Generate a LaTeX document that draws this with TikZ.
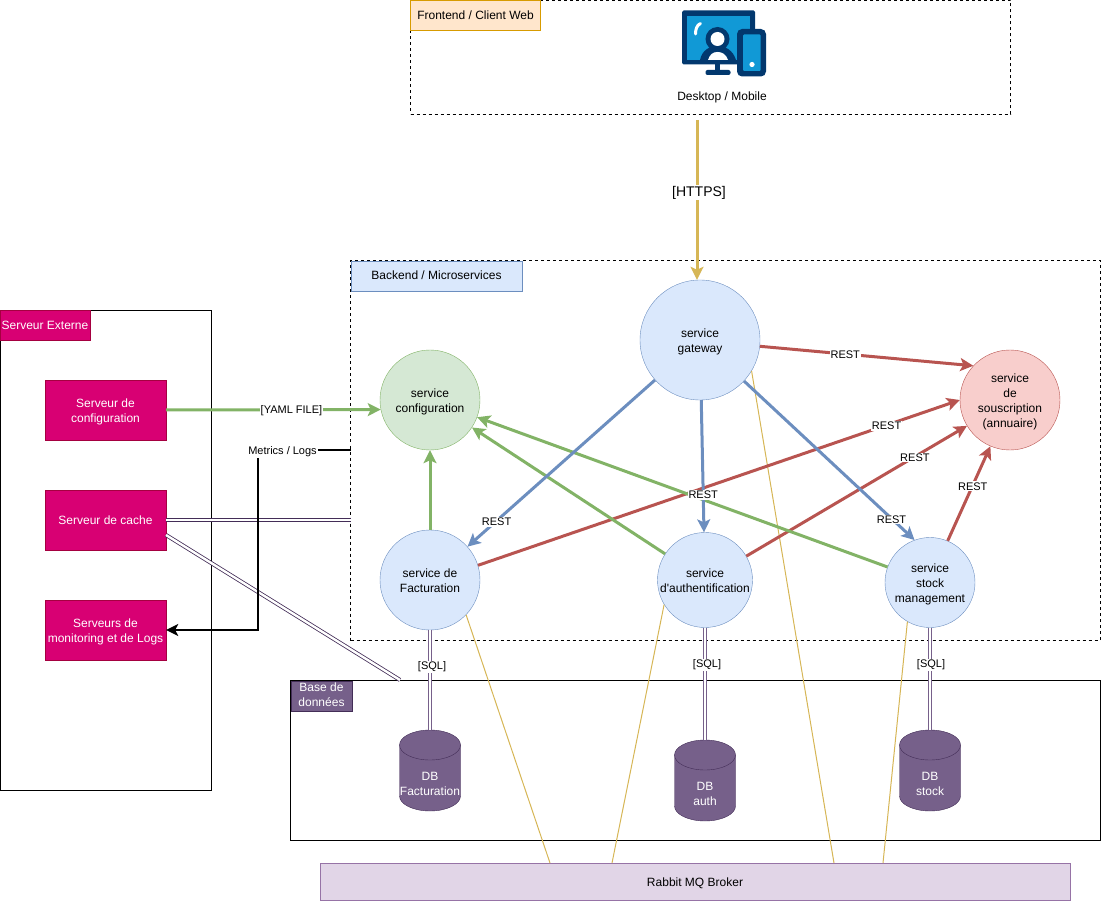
\documentclass[tikz,border=0pt]{standalone}
\usepackage{fontspec}
\setmainfont{Liberation Sans}
\usetikzlibrary{positioning,calc,arrows.meta,shapes.geometric}

\definecolor{bluefill}{HTML}{DAE8FC}
\definecolor{blueline}{HTML}{6C8EBF}
\definecolor{greenfill}{HTML}{D5E8D4}
\definecolor{greenline}{HTML}{82B366}
\definecolor{redfill}{HTML}{F8CECC}
\definecolor{redline}{HTML}{B85450}
\definecolor{goldline}{HTML}{D6B656}
\definecolor{orangefill}{HTML}{FFE6CC}
\definecolor{orangeline}{HTML}{D79B00}
\definecolor{pinkfill}{HTML}{D80073}
\definecolor{pinkline}{HTML}{A50040}
\definecolor{dbfill}{HTML}{76608A}
\definecolor{dbline}{HTML}{432D57}
\definecolor{mqfill}{HTML}{E1D5E7}
\definecolor{mqline}{HTML}{9673A6}
\definecolor{icondark}{HTML}{02386E}
\definecolor{iconblue}{HTML}{1199D6}

\newcommand{\txtstrut}{\rule[-3.5pt]{0pt}{15pt}}
\newcommand{\topline}{\rule{0pt}{14pt}}

\tikzset{
	txt/.style={font=\fontsize{12}{15}\selectfont,align=center,inner sep=0pt,execute at begin node=\txtstrut,execute at end node=\txtstrut},
	lbl/.style={font=\fontsize{11}{13}\selectfont,text=black,fill=white,inner sep=1pt,yshift=-1pt},
	service/.style={circle,draw=blueline,fill=bluefill,txt},
	server/.style={rectangle,draw=pinkline,fill=pinkfill,text=white,txt,minimum width=121pt,minimum height=60pt},
	tag/.style={rectangle,txt,anchor=north west,outer sep=0pt},
	dbnode/.style={rectangle,outer sep=0pt,inner sep=0pt,minimum width=61pt,minimum height=81pt},
	frame/.style={rectangle,draw=black,line width=.8pt,anchor=north west,outer sep=0pt},
	dashframe/.style={frame,dash pattern=on 3pt off 3pt},
	rest/.style={-{Stealth[length=13pt,width=13pt,inset=3pt]},line width=3pt},
	sql/.style={draw=dbfill,double=white,line width=0.8pt,double distance=2.4pt},
	mq/.style={draw=goldline,line width=1pt},
}

\begin{document}
\begin{tikzpicture}[x=1pt,y=-1pt]
	\useasboundingbox (0,0) rectangle (1101,901);

	% cadres
	\node[dashframe,minimum width=600pt,minimum height=114pt] (frontend) at (410.5,0.5) {};
	\node[dashframe,minimum width=749.5pt,minimum height=380pt] (backend) at (350.5,260.5) {};
	\node[frame,minimum width=211pt,minimum height=480pt] (externe) at (0,310.5) {};
	\node[frame,minimum width=809.5pt,minimum height=160pt] (database) at (290.5,680.5) {};

	% etiquettes des cadres
	\node[tag,draw=orangeline,fill=orangefill,minimum width=130pt,minimum height=30pt] (frontendtag) at (410.5,0.5) {Frontend / Client Web};
	\node[tag,draw=blueline,fill=bluefill,minimum width=171pt,minimum height=30pt] (backendtag) at (351,261) {Backend / Microservices};
	\node[tag,draw=pinkline,fill=pinkfill,text=white,minimum width=90pt,minimum height=30pt] (externetag) at (0,310.5) {Serveur Externe};
	\node[tag,draw=dbline,fill=dbfill,text=white,minimum width=61pt,minimum height=30pt] (databasetag) at (291,681) {Base de\\données};

	% icone desktop / mobile
	\fill[icondark,rounded corners=1.5pt] (682,10.5) rectangle (755,64.5);
	\fill[iconblue] (687,16) rectangle (750,60);
	\fill[icondark] (715,64) rectangle (720,71);
	\fill[icondark,rounded corners=2pt] (705.5,70) rectangle (730.5,75);
	\fill[icondark] (700,60) .. controls (702,50) and (710,46) .. (717.5,46) .. controls (725,46) and (733,50) .. (736,60) -- cycle;
	\fill[white] (708,60) .. controls (710,54) and (713,52) .. (717.5,52) .. controls (722,52) and (726,54) .. (728,60) -- cycle;
	\fill[icondark] (717.5,39) circle (12pt);
	\fill[white] (717.5,39) circle (7pt);
	\draw[white,line width=3pt,line cap=round] (700.5,23.5) .. controls (697,25) and (695.5,29) .. (695.5,34);
	\fill[icondark,rounded corners=5pt] (737,29) rectangle (766,76.5);
	\fill[iconblue,rounded corners=1pt] (743,34.5) rectangle (760.5,71);
	\fill[white] (752,64.5) circle (2.6pt);
	\node[txt] (device) at (722,97) {Desktop / Mobile};

	% serveurs externes
	\node[server] (config srv) at (105.5,410) {\topline Serveur de\\configuration};
	\node[server] (cache srv) at (105.5,520) {Serveur de cache};
	\node[server] (logs srv) at (105.5,630) {\topline Serveurs de\\monitoring et de Logs};

	% services
	\node[service,minimum size=120pt] (gateway) at (700,340) {\topline service\\gateway};
	\node[service,draw=greenline,fill=greenfill,minimum size=100pt] (configuration) at (430,400) {\topline service\\configuration};
	\node[service,draw=redline,fill=redfill,minimum size=100pt] (souscription) at (1010,400) {\topline service\\de\\souscription\\(annuaire)};
	\node[service,minimum size=100pt] (facturation) at (430,580) {\topline service de\\Facturation};
	\node[service,minimum size=95pt,inner sep=-6pt] (auth) at (705,580) {\topline service\\d\textquotesingle authentification};
	\node[service,minimum size=90pt,inner sep=-3pt] (stock) at (930,582.5) {\topline service\\stock\\management};

	% bases de donnees
	\node[dbnode] (db fact) at (430,770.5) {};
	\node[dbnode] (db auth) at (705,780.5) {};
	\node[dbnode] (db stock) at (930,770.5) {};
	\foreach \dbname/\dbtext in {db fact/{\topline DB\\Facturation},db auth/{\topline DB\\auth},db stock/{\topline DB\\stock}} {
		\draw[draw=dbline,fill=dbfill] (\dbname.north west) ++(0,15) arc[x radius=30.5pt,y radius=15pt,start angle=180,end angle=0] -- ($(\dbname.south east)+(0,-15)$) arc[x radius=30.5pt,y radius=15pt,start angle=0,end angle=-180] -- cycle;
		\draw[draw=dbline] (\dbname.north west) ++(0,15) arc[x radius=30.5pt,y radius=15pt,start angle=180,end angle=360];
		\node[txt,text=white] (\dbname text) at ($(\dbname)+(0,12.5)$) {\dbtext};
	}

	% broker
	\node[rectangle,draw=mqline,fill=mqfill,txt,minimum width=750pt,minimum height=37pt] (broker) at (695,882) {Rabbit MQ Broker};
	\coordinate (mq1) at (550,863);
	\coordinate (mq2) at (612,863);
	\coordinate (mq3) at (834,863);
	\coordinate (mq4) at (883,863);

	% liens vers le broker
	\draw[mq] (gateway.-31) -- (mq3);
	\draw[mq] (facturation.-44) -- (mq1);
	\draw[mq] (auth.211) -- (mq2);
	\draw[mq] (stock.240) -- (mq4);

	% liens SQL et cache
	\draw[sql] (facturation) -- node[lbl,pos=.36,xshift=2pt] (sql1) {[SQL]} (db fact);
	\draw[sql] (auth) -- node[lbl,pos=.32,xshift=2pt] (sql2) {[SQL]} (db auth);
	\draw[sql] (stock) -- node[lbl,pos=.355,xshift=1pt] (sql3) {[SQL]} (db stock);
	\coordinate (cacheright) at (351,520);
	\coordinate (cachelow) at (166,535);
	\coordinate (cachedown) at (400,680);
	\draw[sql,draw=dbline] (cache srv.east) -- (cacheright);
	\draw[sql,draw=dbline] (cachelow) -- (cachedown);

	% liens REST vers l'annuaire
	\draw[rest,redline] (facturation.17) -- node[lbl,pos=.848] (rest1) {REST} (souscription.west);
	\draw[rest,redline] (auth.30) -- node[lbl,pos=.764] (rest2) {REST} (souscription.211);
	\draw[rest,redline] (stock.67) -- node[lbl,pos=.587] (rest3) {REST} (souscription.247);
	\draw[rest,redline] (gateway.-6) -- node[lbl,pos=.4] (rest4) {REST} (souscription.137);

	% liens de configuration
	\draw[rest,greenline] (facturation) -- (configuration);
	\draw[rest,greenline] (auth) -- (configuration);
	\draw[rest,greenline] (stock) -- (configuration);
	\draw[rest,greenline] (config srv.east) -- node[lbl,pos=.584] (yaml) {[YAML FILE]} (configuration.191.5);

	% liens depuis la gateway
	\draw[rest,blueline] (gateway) -- node[lbl,pos=.845] (rest5) {REST} (facturation);
	\draw[rest,blueline] (gateway.-43) -- node[lbl,pos=.865] (rest6) {REST} (stock.110);
	\draw[rest,blueline] (gateway) -- node[lbl,pos=.71] (rest7) {REST} (auth);

	% https
	\coordinate (httpstop) at (697,120);
	\draw[rest,goldline] (httpstop) -- node[lbl,pos=.45,xshift=2pt,font=\fontsize{14}{16}\selectfont] (https) {[HTTPS]} (gateway.north -| httpstop);

	% metrics
	\coordinate (backendleft) at (351,450);
	\coordinate (logsbend) at (258,630);
	\draw[-{Stealth[length=12pt,width=12pt,inset=3pt]},line width=2pt] (backendleft) -- (backendleft -| logsbend) -- (logsbend) -- (logs srv.east);
	\node[lbl] (metrics) at (282.5,451) {Metrics / Logs};
\end{tikzpicture}
\end{document}
